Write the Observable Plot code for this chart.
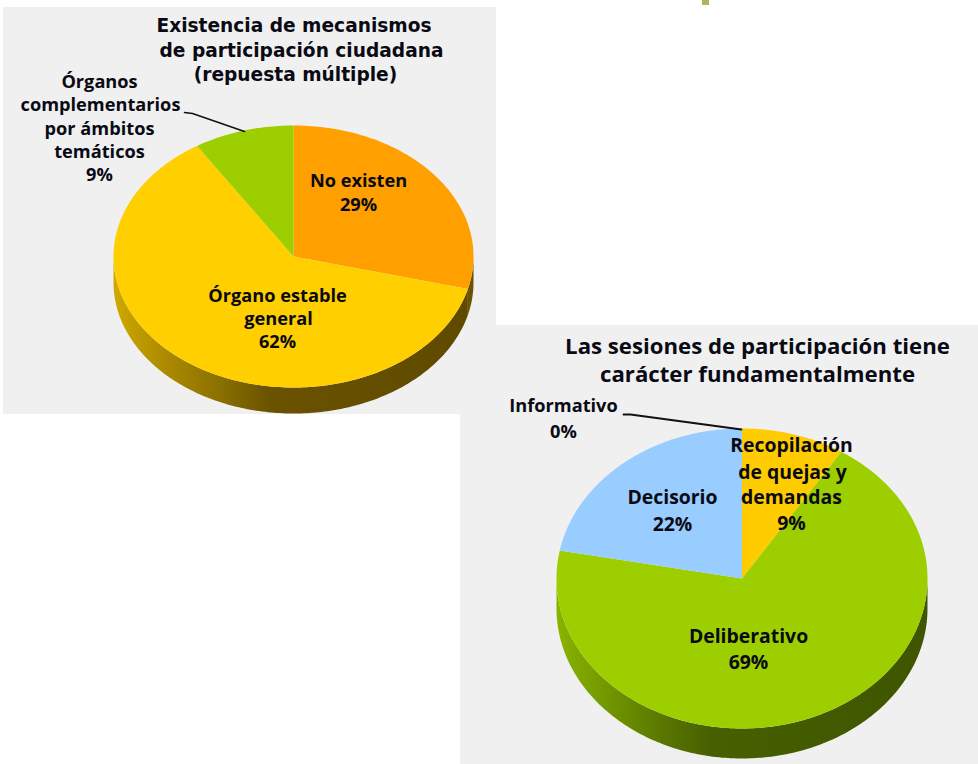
<!DOCTYPE html>
<html><head><meta charset="utf-8">
<script src="https://cdn.jsdelivr.net/npm/d3@7"></script>
<script src="https://cdn.jsdelivr.net/npm/@observablehq/plot@0.6"></script>
<style>html,body{margin:0;padding:0;background:#fff}svg{display:block}</style>
</head><body><div id="chart"></div>
<script>
// data
const catsA = ["No existen", "Órgano estable general", "Órganos complementarios por ámbitos temáticos"];
const valsA = [29, 62, 9];
const colsA = ["#ff9f00", "#ffcf00", "#9dcf00"];
const catsB = ["Informativo", "Recopilación de quejas y demandas", "Deliberativo", "Decisorio"];
const valsB = [0, 9, 69, 22];
const colsB = ["#ffffff", "#ffcc00", "#9dcf00", "#99ccff"];
const titleA = ["Existencia de mecanismos", "de participación ciudadana", "(repuesta múltiple)"];
const titleB = ["Las sesiones de participación tiene", "carácter fundamentalmente"];

// layout
const W = 978, H = 764;
const pieA = {cx: 293, cy: 256, rx: 180, ry: 131, depth: 26};
const pieB = {cx: 741.5, cy: 578, rx: 185.5, ry: 150, depth: 30};
const FONT = "'Open Sans', sans-serif";

function pt(p, a, d = 0) { return [p.cx + p.rx * Math.sin(a), p.cy - p.ry * Math.cos(a) + d]; }
function angles(vals, start) {
  let c = start; return vals.map(v => { const a0 = c; c += v / 100 * 2 * Math.PI; return [a0, c]; });
}
function arcPts(p, a0, a1, d = 0) {
  const n = Math.max(2, Math.ceil((a1 - a0) * 60)), out = [];
  for (let i = 0; i <= n; ++i) out.push(pt(p, a0 + (a1 - a0) * i / n, d));
  return out;
}
function wedge(p, a0, a1) { return [[p.cx, p.cy], ...arcPts(p, a0, a1)]; }
function side(p, a0, a1) {
  const s = Math.max(a0, Math.PI / 2), e = Math.min(a1, 3 * Math.PI / 2);
  if (e <= s) return null;
  return [...arcPts(p, s, e), ...arcPts(p, s, e, p.depth).reverse()];
}
const poly = (pts, fill) => Plot.line(pts, {x: d => d[0], y: d => d[1], fill, stroke: "none", curve: "linear-closed"});

function gradDefs() {
  const defs = d3.create("svg:defs");
  const mk = (id, stops) => {
    const g = defs.append("linearGradient").attr("id", id).attr("x1", 0).attr("x2", 1).attr("y1", 0).attr("y2", 0);
    stops.forEach(([o, c]) => g.append("stop").attr("offset", o).attr("stop-color", c));
  };
  mk("gGold", [[0, "#d0a800"], [0.15, "#ab8a00"], [0.3, "#8a7000"], [0.44, "#6a5200"], [1, "#5f4a00"]]);
  mk("gGreen", [[0, "#8ab400"], [0.15, "#6f9400"], [0.28, "#5a7800"], [0.42, "#466000"], [1, "#3f5500"]]);
  return defs.node();
}

function pieMarks(p, vals, cols, start, sideFills) {
  const ang = angles(vals, start), marks = [];
  ang.forEach(([a0, a1], i) => { const s = side(p, a0, a1); if (s) marks.push(poly(s, sideFills[i])); });
  ang.forEach(([a0, a1], i) => { if (vals[i] > 0) marks.push(poly(wedge(p, a0, a1), cols[i])); });
  return marks;
}

const titleXA = [293.5, 301, 295];
const titleRowsA = titleA.map((t, i) => ({t, x: titleXA[i], y: 26 + i * 24.5}));
const textRows = [
  ...titleB.map((t, i) => ({t, x: 757, y: 346 + i * 28, s: 22.2})),
  {t: "Órganos", x: 99, y: 82}, {t: "complementarios", x: 100, y: 105}, {t: "por ámbitos", x: 99, y: 129}, {t: "temáticos", x: 99, y: 152}, {t: "9%", x: 99, y: 175},
  {t: "No existen", x: 358, y: 181}, {t: "29%", x: 358, y: 205},
  {t: "Órgano estable", x: 277, y: 296}, {t: "general", x: 278, y: 319}, {t: "62%", x: 277, y: 342},
  {t: "Informativo", x: 563, y: 406}, {t: "0%", x: 563, y: 432},
  {t: "Recopilación", x: 791, y: 445, s: 19.4}, {t: "de quejas y", x: 792, y: 472, s: 19.4}, {t: "demandas", x: 791, y: 497, s: 19.4}, {t: "9%", x: 791, y: 523, s: 19.4},
  {t: "Decisorio", x: 672, y: 497, s: 19.4}, {t: "22%", x: 672, y: 524, s: 19.4},
  {t: "Deliberativo", x: 748, y: 636, s: 19.4}, {t: "69%", x: 748, y: 662, s: 19.4}
];
const leaderA = [[184, 112], [192, 113], [244, 131]];
const leaderB = [[623, 414], [630, 414], [741, 429]];

const chart = Plot.plot({
  width: W, height: H, margin: 0,
  x: {domain: [0, W], range: [0, W], axis: null},
  y: {domain: [0, H], range: [0, H], axis: null},
  style: {background: "#fff", fontFamily: FONT},
  marks: [
    () => gradDefs(),
    Plot.rect([{a: 3, b: 496, c: 7, d: 414}, {a: 460, b: 978, c: 414, d: 764}, {a: 496, b: 978, c: 325, d: 414}],
      {x1: "a", x2: "b", y1: "c", y2: "d", fill: "#f0f0f0"}),
    Plot.rect([{a: 702, b: 709, c: 0, d: 5}], {x1: "a", x2: "b", y1: "c", y2: "d", fill: "#b3b35a"}),
    ...pieMarks(pieA, valsA, colsA, 0, ["#6b5300", "url(#gGold)", "#fff"]),
    ...pieMarks(pieB, valsB, colsB, 0, ["#fff", "#fff", "url(#gGreen)", "url(#gGreen)"]),
    Plot.line(leaderA, {x: d => d[0], y: d => d[1], stroke: "#111", strokeWidth: 1.5}),
    Plot.line(leaderB, {x: d => d[0], y: d => d[1], stroke: "#111", strokeWidth: 1.8}),
    Plot.text(titleRowsA, {x: "x", y: "y", text: "t", fontFamily: "'DejaVu Sans', sans-serif", fontSize: 18.6, fontWeight: 700, fill: "#0a0a14", textAnchor: "middle", lineAnchor: "middle"}),
    Plot.text(textRows, {x: "x", y: "y", text: "t", fontSize: d => d.s || 18.2, fontWeight: 700, fill: "#0a0a14", textAnchor: "middle", lineAnchor: "middle"})
  ]
});
document.getElementById("chart").append(chart);
</script></body></html>
